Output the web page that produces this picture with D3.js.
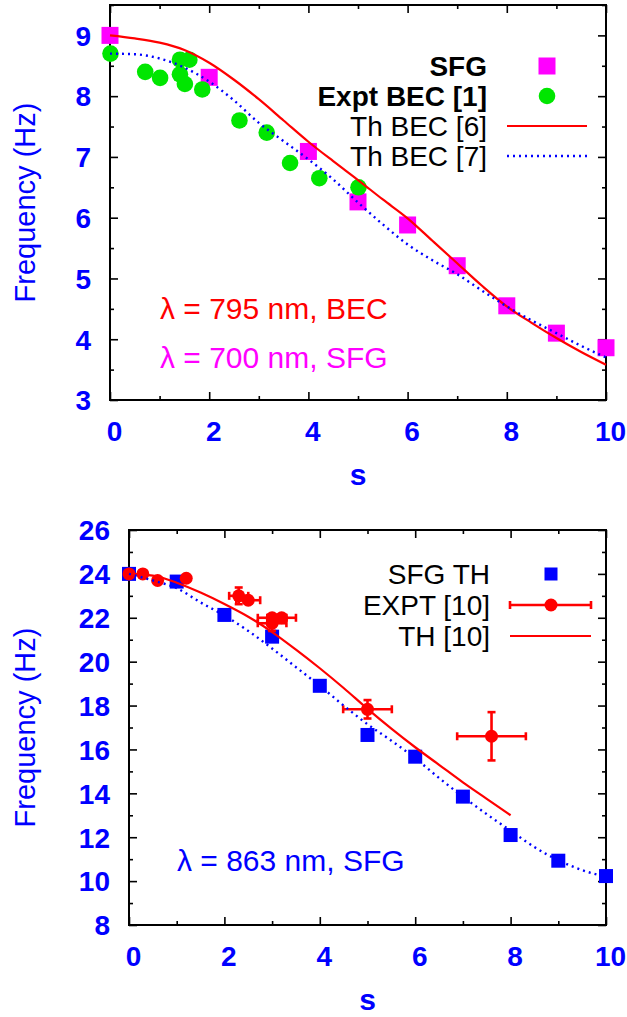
<!DOCTYPE html>
<html>
<head>
<meta charset="utf-8">
<script src="https://cdn.jsdelivr.net/npm/d3@7"></script>
<style>
  body { margin: 0; background: #fff; }
  svg { display: block; }
  text { font-family: "Liberation Sans", Arial, sans-serif; }
</style>
</head>
<body>
<div id="chart"></div>
<script>
// ---- shared ticks ----
const xMajor = [0, 2, 4, 6, 8, 10];
const xMinor = [1, 3, 5, 7, 9];
const curveS = [0, 0.5, 1, 1.5, 2, 2.5, 3, 3.5, 4, 4.5, 5, 5.5, 6, 6.5, 7, 7.5, 8, 8.5, 9, 9.5, 10];

// ---- top panel data ----
const topYMajor = [3, 4, 5, 6, 7, 8, 9];
const topYMinor = [3.5, 4.5, 5.5, 6.5, 7.5, 8.5, 9.5];
const sfgS = [0, 2, 4, 5, 6, 7, 8, 9, 10];
const sfgF = [9.0, 8.31, 7.09, 6.26, 5.88, 5.21, 4.55, 4.1, 3.86];
const becS = [0.01, 0.71, 1.01, 1.41, 1.6, 1.41, 1.51, 1.86, 2.61, 3.16, 3.63, 4.22, 5.01];
const becF = [8.7, 8.4, 8.3, 8.6, 8.6, 8.36, 8.2, 8.11, 7.6, 7.4, 6.9, 6.65, 6.5];
const th6F = [9.0, 8.95, 8.88, 8.76, 8.55, 8.27, 7.95, 7.6, 7.25, 6.93, 6.62, 6.3, 5.99, 5.62, 5.25, 4.88, 4.54, 4.27, 4.02, 3.79, 3.58];
const th7F = [8.7, 8.69, 8.62, 8.47, 8.24, 7.93, 7.56, 7.26, 6.96, 6.63, 6.25, 5.89, 5.56, 5.3, 5.07, 4.8, 4.54, 4.31, 4.1, 3.89, 3.7];

// ---- bottom panel data ----
const botYMajor = [8, 10, 12, 14, 16, 18, 20, 22, 24, 26];
const botYMinor = [9, 11, 13, 15, 17, 19, 21, 23, 25];
const sfgThS = [0, 1, 2, 3, 4, 5, 6, 7, 8, 9, 10];
const sfgThF = [24.0, 23.65, 22.13, 21.14, 18.9, 16.66, 15.67, 13.85, 12.1, 10.93, 10.23];
const exptS  = [0, 0.29, 0.6, 1.2, 2.3, 2.5, 3.0, 3.2, 3.0, 5.0, 7.6];
const exptF  = [24.0, 24.0, 23.7, 23.8, 23.0, 22.8, 22.0, 22.0, 21.75, 17.83, 16.6];
const exptDs = [0, 0, 0, 0, 0.2, 0.25, 0.3, 0.3, 0.3, 0.51, 0.72];
const exptDf = [0, 0, 0, 0, 0.38, 0.15, 0.15, 0.12, 0.35, 0.42, 1.1];
const th10S  = [0, 0.5, 1, 1.5, 2, 2.5, 3, 3.5, 4, 4.5, 5, 5.5, 6, 6.5, 7, 7.5, 8];
const th10F  = [24.0, 23.92, 23.6, 23.15, 22.63, 22.05, 21.35, 20.55, 19.7, 18.8, 17.85, 16.95, 16.1, 15.3, 14.5, 13.75, 13.0];
const sfgCurveF = [24.0, 23.7, 23.35, 22.7, 22.1, 21.4, 20.6, 19.75, 18.9, 18.0, 17.15, 16.4, 15.6, 14.7, 13.85, 13.05, 12.3, 11.55, 10.95, 10.5, 10.2];

const BLUE = "#0000ff", RED = "#ff0000", MAG = "#ff00ff", GREEN = "#00e600";
const W = 627, H = 1017;
const DOTS = "2,4";

const svg = d3.select("#chart").append("svg")
    .attr("width", W)
    .attr("height", H);

const zip = (a, b) => a.map((v, i) => [v, b[i]]);

function frame(cfg) {
    const x = d3.scaleLinear().domain([0, 10]).range([cfg.left, cfg.right]);
    const y = d3.scaleLinear().domain(cfg.yDomain).range([cfg.bottom, cfg.top]);
    const g = svg.append("g");

    // inward ticks on all four sides, gnuplot style
    const addAxis = (axis, tx, ty, vals, size, labels) => {
        const a = g.append("g")
            .attr("transform", `translate(${tx},${ty})`)
            .call(axis.tickValues(vals).tickSize(-size).tickFormat(labels ? d3.format("d") : ""));
        a.select(".domain").remove();
        a.selectAll("line").attr("stroke", "#000").attr("stroke-width", 1.6);
        return a;
    };
    const bx = addAxis(d3.axisBottom(x), 0, cfg.bottom, xMajor, 8, true);
    addAxis(d3.axisBottom(x), 0, cfg.bottom, xMinor, 4, false);
    addAxis(d3.axisTop(x), 0, cfg.top, xMajor, 8, false);
    addAxis(d3.axisTop(x), 0, cfg.top, xMinor, 4, false);
    const ly = addAxis(d3.axisLeft(y).tickPadding(19), cfg.left, 0, cfg.yMajor, 8, true);
    addAxis(d3.axisLeft(y), cfg.left, 0, cfg.yMinor, 4, false);
    addAxis(d3.axisRight(y), cfg.right, 0, cfg.yMajor, 8, false);
    addAxis(d3.axisRight(y), cfg.right, 0, cfg.yMinor, 4, false);

    bx.selectAll("text")
        .attr("y", 31).attr("dy", "0.35em").attr("dx", 4)
        .attr("fill", BLUE).attr("font-size", 28).attr("font-weight", "bold")
        .attr("font-family", "Liberation Sans, Arial, sans-serif");
    ly.selectAll("text")
        .attr("dy", "0.35em")
        .attr("fill", BLUE).attr("font-size", 28).attr("font-weight", "bold")
        .attr("font-family", "Liberation Sans, Arial, sans-serif");

    g.append("rect")
        .attr("x", cfg.left).attr("y", cfg.top)
        .attr("width", cfg.right - cfg.left).attr("height", cfg.bottom - cfg.top)
        .attr("fill", "none").attr("stroke", "#000").attr("stroke-width", 2);

    // axis titles
    g.append("text")
        .attr("transform", `translate(25,${(cfg.top + cfg.bottom) / 2}) rotate(-90)`)
        .attr("text-anchor", "middle").attr("dominant-baseline", "central")
        .attr("fill", BLUE).attr("font-size", 29)
        .text("Frequency (Hz)");
    g.append("text")
        .attr("x", (cfg.left + cfg.right) / 2).attr("y", cfg.bottom + 74)
        .attr("text-anchor", "middle").attr("dominant-baseline", "central")
        .attr("fill", BLUE).attr("font-size", 30).attr("font-weight", "bold")
        .text("s");

    return { x, y, g };
}

function squares(g, pts, x, y, size, color) {
    g.selectAll(null).data(pts).enter().append("rect")
        .attr("x", d => x(d[0]) - size / 2).attr("y", d => y(d[1]) - size / 2)
        .attr("width", size).attr("height", size).attr("fill", color);
}

function circles(g, pts, x, y, r, color) {
    g.selectAll(null).data(pts).enter().append("circle")
        .attr("cx", d => x(d[0])).attr("cy", d => y(d[1])).attr("r", r).attr("fill", color);
}

function curve(g, pts, x, y, color, dotted) {
    const line = d3.line().x(d => x(d[0])).y(d => y(d[1])).curve(d3.curveMonotoneX);
    const p = g.append("path").datum(pts).attr("d", line)
        .attr("fill", "none").attr("stroke", color);
    if (dotted) p.attr("stroke-width", 2.4).attr("stroke-dasharray", DOTS);
    else p.attr("stroke-width", 2.2);
}

function legendText(g, xr, yc, txt, bold) {
    g.append("text").attr("x", xr).attr("y", yc)
        .attr("text-anchor", "end").attr("dominant-baseline", "central")
        .attr("font-size", 28).attr("fill", "#000")
        .attr("font-weight", bold ? "bold" : "normal")
        .text(txt);
}

function note(g, x0, yc, txt, color) {
    g.append("text").attr("x", x0).attr("y", yc)
        .attr("dominant-baseline", "central")
        .attr("font-size", 30).attr("fill", color)
        .text(txt);
}

// ================= top panel =================
{
    const cfg = { left: 110, right: 606, top: 5, bottom: 400, yDomain: [3, 9.5],
                  yMajor: topYMajor, yMinor: topYMinor };
    const { x, y, g } = frame(cfg);

    squares(g, zip(sfgS, sfgF), x, y, 17, MAG);
    circles(g, zip(becS, becF), x, y, 8.3, GREEN);
    curve(g, zip(curveS, th6F), x, y, RED, false);
    curve(g, zip(curveS, th7F), x, y, BLUE, true);

    // legend
    const lx = 487, sx0 = 507, sx1 = 587, sc = 547;
    legendText(g, lx, 66, "SFG", true);
    legendText(g, lx, 96, "Expt BEC [1]", true);
    legendText(g, lx, 126, "Th BEC [6]", false);
    legendText(g, lx, 156, "Th BEC [7]", false);
    g.append("rect").attr("x", sc - 8.5).attr("y", 66 - 8.5).attr("width", 17).attr("height", 17).attr("fill", MAG);
    g.append("circle").attr("cx", sc).attr("cy", 96).attr("r", 8.3).attr("fill", GREEN);
    g.append("line").attr("x1", sx0).attr("x2", sx1).attr("y1", 126).attr("y2", 126)
        .attr("stroke", RED).attr("stroke-width", 2.2);
    g.append("line").attr("x1", sx0).attr("x2", sx1).attr("y1", 156).attr("y2", 156)
        .attr("stroke", BLUE).attr("stroke-width", 2.4).attr("stroke-dasharray", DOTS);

    note(g, 160, 308, "λ = 795 nm, BEC", RED);
    note(g, 160, 357, "λ = 700 nm, SFG", MAG);
}

// ================= bottom panel =================
{
    const cfg = { left: 129, right: 606, top: 530, bottom: 925, yDomain: [8, 26],
                  yMajor: botYMajor, yMinor: botYMinor };
    const { x, y, g } = frame(cfg);

    squares(g, zip(sfgThS, sfgThF), x, y, 14, BLUE);

    // experimental points with error bars
    const expt = exptS.map((s, i) => ({ s, f: exptF[i], ds: exptDs[i], df: exptDf[i] }));
    const cap = 4;
    expt.filter(d => d.ds > 0 || d.df > 0).forEach(d => {
        const cx = x(d.s), cy = y(d.f);
        const xl = x(d.s - d.ds), xr = x(d.s + d.ds);
        const yt = y(d.f + d.df), yb = y(d.f - d.df);
        const e = g.append("g").attr("stroke", RED).attr("stroke-width", 2.6);
        e.append("line").attr("x1", xl).attr("x2", xr).attr("y1", cy).attr("y2", cy);
        e.append("line").attr("x1", xl).attr("x2", xl).attr("y1", cy - cap).attr("y2", cy + cap);
        e.append("line").attr("x1", xr).attr("x2", xr).attr("y1", cy - cap).attr("y2", cy + cap);
        e.append("line").attr("x1", cx).attr("x2", cx).attr("y1", yt).attr("y2", yb);
        e.append("line").attr("x1", cx - cap).attr("x2", cx + cap).attr("y1", yt).attr("y2", yt);
        e.append("line").attr("x1", cx - cap).attr("x2", cx + cap).attr("y1", yb).attr("y2", yb);
    });
    circles(g, expt.map(d => [d.s, d.f]), x, y, 6.5, RED);

    curve(g, zip(th10S, th10F), x, y, RED, false);
    curve(g, zip(curveS, sfgCurveF), x, y, BLUE, true);

    // legend
    const lx = 490, sx0 = 510, sx1 = 591, sc = 551;
    legendText(g, lx, 574, "SFG TH", false);
    legendText(g, lx, 605, "EXPT [10]", false);
    legendText(g, lx, 636, "TH [10]", false);
    g.append("rect").attr("x", sc - 6.5).attr("y", 574 - 6.5).attr("width", 13).attr("height", 13).attr("fill", BLUE);
    const le = g.append("g").attr("stroke", RED).attr("stroke-width", 2.6);
    le.append("line").attr("x1", sx0).attr("x2", sx1).attr("y1", 605).attr("y2", 605);
    le.append("line").attr("x1", sx0).attr("x2", sx0).attr("y1", 605 - cap).attr("y2", 605 + cap);
    le.append("line").attr("x1", sx1).attr("x2", sx1).attr("y1", 605 - cap).attr("y2", 605 + cap);
    g.append("circle").attr("cx", sc).attr("cy", 605).attr("r", 6.5).attr("fill", RED);
    g.append("line").attr("x1", sx0).attr("x2", sx1).attr("y1", 636).attr("y2", 636)
        .attr("stroke", RED).attr("stroke-width", 2.2);

    note(g, 177, 860, "λ = 863 nm, SFG", BLUE);
}
</script>
</body>
</html>
